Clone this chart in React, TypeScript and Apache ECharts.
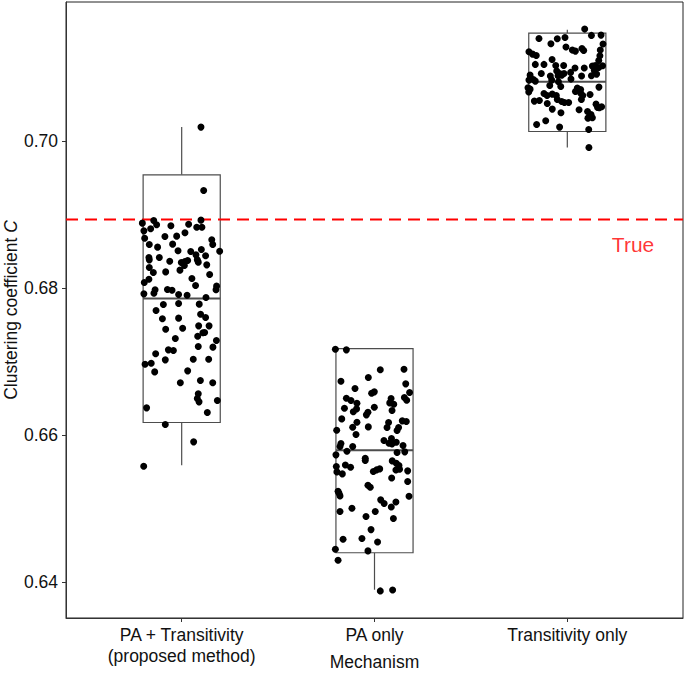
import React, { useEffect, useRef } from "react";
import * as echarts from "echarts";

const categories = ["PA + Transitivity\n(proposed method)", "PA only", "Transitivity only"];
const categoryPositions = [1, 2, 3];
const yTicks = [0.64, 0.66, 0.68, 0.7];

// box statistics
const boxMin = [0.65591, 0.63895, 0.69918];
const boxQ1 = [0.66173, 0.64399, 0.70136];
const boxMedian = [0.6786, 0.65796, 0.70813];
const boxQ3 = [0.69546, 0.67178, 0.71477];
const boxMax = [0.70196, 0.67178, 0.71522];

const trueValue = 0.68936;
const trueLabel = "True";

// jittered points: PA + Transitivity
const g1Values = [
  0.68888, 0.68924, 0.68865, 0.68811, 0.68852, 0.68874, 0.68833, 0.68929, 0.68833, 0.68783,
  0.68683, 0.68706, 0.68711, 0.68756, 0.68661, 0.68597, 0.68597, 0.68561, 0.68602, 0.68511,
  0.68502, 0.68456, 0.68529, 0.68506, 0.6842, 0.68388, 0.6842, 0.6837, 0.68352, 0.68366,
  0.68379, 0.68311, 0.68388, 0.68357, 0.68443, 0.6832, 0.68284, 0.68216, 0.68224, 0.68248,
  0.68189, 0.68125, 0.6808, 0.68134, 0.68039, 0.6798, 0.67934, 0.67925, 0.67984, 0.67975,
  0.67916, 0.67907, 0.6803, 0.6798, 0.67875, 0.67698, 0.6778, 0.67793, 0.67785, 0.67648,
  0.67585, 0.67594, 0.67603, 0.67444, 0.67457, 0.67489, 0.67489, 0.67317, 0.67348, 0.67394,
  0.67398, 0.67289, 0.67162, 0.67153, 0.67208, 0.67199, 0.67108, 0.66967, 0.6698, 0.67026,
  0.67035, 0.67035, 0.66862, 0.66876, 0.66713, 0.66744, 0.66713, 0.66563, 0.66499, 0.66454,
  0.66472, 0.66372, 0.66308, 0.66145, 0.65909, 0.65577, 0.70196, 0.69332,
];
const g1Jitter = [
  -0.204, -0.145, -0.13, -0.161, -0.056, 0.036, 0.078, 0.1, 0.105, -0.196,
  -0.192, -0.087, -0.026, 0.017, 0.156, 0.161, -0.168, -0.125, -0.047, -0.019,
  0.047, 0.074, 0.102, 0.197, -0.17, -0.168, -0.116, -0.062, -0.002, 0.017,
  0.031, 0.014, 0.081, 0.086, 0.124, 0.13, -0.168, -0.147, -0.083, -0.009,
  0.145, -0.17, -0.194, 0.053, 0.072, -0.138, -0.144, -0.196, -0.074, -0.05,
  -0.016, 0.028, 0.181, 0.178, 0.126, -0.133, -0.095, -0.016, 0.091, 0.098,
  -0.1, -0.016, 0.124, -0.083, 0.005, 0.088, 0.142, -0.033, 0.083, 0.11,
  0.119, 0.18, -0.069, -0.043, 0.086, 0.162, -0.135, -0.19, -0.158, -0.085,
  0.06, 0.14, -0.14, 0.031, -0.007, 0.097, 0.161, 0.086, 0.081, 0.09,
  0.185, -0.182, 0.133, -0.085, 0.062, -0.197, 0.1, 0.114,
];

// PA only
const g2Values = [
  0.67171, 0.67162, 0.6689, 0.66899, 0.66735, 0.66785, 0.66699, 0.66635, 0.66572, 0.6659,
  0.66581, 0.66504, 0.66472, 0.66436, 0.66499, 0.66513, 0.66476, 0.6644, 0.66422, 0.66367,
  0.66358, 0.66381, 0.66318, 0.66313, 0.66277, 0.66336, 0.66222, 0.66177, 0.66172, 0.66195,
  0.66186, 0.66068, 0.66109, 0.66113, 0.66104, 0.66104, 0.66063, 0.66009, 0.65954, 0.65927,
  0.65891, 0.65904, 0.65886, 0.65845, 0.65882, 0.65859, 0.65782, 0.65845, 0.65773, 0.65763,
  0.65732, 0.65686,
  0.65573, 0.655, 0.65473, 0.65595, 0.65564, 0.65654, 0.65505, 0.65527, 0.65541, 0.6565,
  0.65618, 0.65586, 0.65527, 0.65536, 0.65514, 0.65418, 0.65368, 0.65318, 0.65291, 0.65237,
  0.65209, 0.65173, 0.65169, 0.65119, 0.65069, 0.65091, 0.65023, 0.6496, 0.65005, 0.6496,
  0.64892, 0.64864, 0.64714, 0.64583, 0.64592, 0.64546, 0.64446, 0.64424, 0.64297, 0.63879,
  0.63892,
];
const g2Jitter = [
  -0.203, -0.146, 0.03, 0.153, -0.174, -0.032, 0.162, -0.101, -0.015, -0.001,
  0.182, -0.146, -0.122, -0.091, 0.086, 0.155, 0.167, 0.079, 0.1, -0.156,
  -0.093, -0.001, -0.11, -0.034, -0.042, 0.091, -0.17, -0.091, 0.073, 0.144,
  0.165, -0.196, -0.113, -0.032, 0.065, 0.125, 0.117, -0.096, 0.088, 0.049,
  0.075, 0.113, -0.174, -0.179, 0.091, 0.148, -0.143, -0.113, 0.157, 0.117,
  -0.2, -0.048,
  -0.198, -0.195, -0.167, -0.151, -0.124, -0.048, -0.006, 0.01, 0.027, 0.092,
  0.113, 0.127, 0.111, 0.13, 0.172, 0.089, 0.172, -0.034, -0.022, -0.189,
  -0.184, -0.179, 0.179, 0.032, 0.05, 0.111, 0.087, -0.179, -0.117, 0.004,
  -0.044, 0.098, -0.018, -0.163, -0.065, 0.016, -0.203, -0.034, -0.189, 0.03,
  0.094,
];

// Transitivity only
const g3Values = [
  0.71531, 0.71445, 0.71449, 0.71404, 0.71399, 0.71417, 0.71331, 0.71327, 0.71286, 0.71245,
  0.71231, 0.71267, 0.7124, 0.71245, 0.71222, 0.7119, 0.71172, 0.71168, 0.71118, 0.71104,
  0.7105, 0.7105, 0.71036, 0.71036, 0.71, 0.71, 0.71027, 0.71036, 0.71009, 0.71031,
  0.70927, 0.70959, 0.70927, 0.70927, 0.70941, 0.70968, 0.70918, 0.70904, 0.70845, 0.70891,
  0.70895, 0.70904, 0.70891, 0.70836, 0.70822, 0.70836, 0.70813, 0.7085, 0.70895, 0.70732,
  0.70713, 0.70763, 0.7075, 0.70727, 0.70709, 0.70741, 0.70673, 0.70654, 0.70627, 0.70645,
  0.70627, 0.70682, 0.70659, 0.70627, 0.70641, 0.7055, 0.70559, 0.70518, 0.70573, 0.70545,
  0.70532, 0.70532, 0.70573, 0.70509, 0.70441, 0.70391, 0.70432, 0.70409, 0.70368, 0.70464,
  0.70459, 0.70473, 0.70318, 0.70323, 0.70232, 0.70282, 0.70196, 0.70164, 0.69919,
];
const g3Jitter = [
  0.09, 0.125, 0.175, -0.147, -0.052, -0.012, -0.085, 0.185, -0.007, 0.026,
  0.042, 0.076, 0.085, 0.171, -0.199, -0.18, -0.161, 0.169, -0.079, 0.163,
  -0.166, -0.121, -0.06, -0.019, 0.04, 0.088, 0.13, 0.145, 0.163, 0.183,
  -0.135, -0.055, -0.04, -0.017, 0.017, 0.14, 0.152, -0.193, -0.176, -0.088,
  -0.048, -0.029, 0.074, -0.199, -0.166, -0.081, -0.046, 0.019, 0.125, -0.204,
  -0.193, -0.091, -0.034, 0.052, 0.069, 0.164, -0.2, -0.121, -0.105, -0.078,
  -0.057, 0.042, 0.069, 0.08, 0.118, -0.171, -0.145, -0.104, -0.052, -0.029,
  -0.015, 0.007, 0.073, 0.149, -0.078, -0.033, 0.061, 0.105, 0.123, 0.157,
  0.166, 0.178, 0.107, 0.13, -0.159, -0.112, -0.04, 0.111, 0.112,
];

const groupValues = [g1Values, g2Values, g3Values];
const groupJitter = [g1Jitter, g2Jitter, g3Jitter];

const FONT = "'Liberation Sans', Arial, Helvetica, sans-serif";
const X_MIN = 0.4;
const X_MAX = 3.6;
const BOX_HALF = 0.2;
const BOX_COLOR = "#4d4d4d";

export default function App() {
  const ref = useRef<HTMLDivElement>(null);

  useEffect(() => {
    if (!ref.current) return;
    const chart = echarts.init(ref.current, undefined, { renderer: "svg" });

    const boxData = categoryPositions.map((p, i) => [p, boxMin[i], boxQ1[i], boxMedian[i], boxQ3[i], boxMax[i]]);
    const pointData: number[][] = [];
    groupValues.forEach((vals, gi) => {
      vals.forEach((v, k) => pointData.push([categoryPositions[gi] + groupJitter[gi][k], v]));
    });

    const option: any = {
      animation: false,
      backgroundColor: "#ffffff",
      grid: {
        left: 66,
        right: 2,
        top: 2,
        bottom: 56,
        containLabel: false,
        outerBoundsMode: "none",
        show: true,
        borderColor: "#222222",
        borderWidth: 1,
        backgroundColor: "transparent",
      },
      xAxis: {
        type: "value",
        min: X_MIN,
        max: X_MAX,
        splitLine: { show: false },
        axisLine: { show: true, onZero: false, lineStyle: { color: "#333333", width: 1 } },
        axisTick: { show: true, length: 4, customValues: categoryPositions, lineStyle: { color: "#333333" } },
        axisLabel: {
          customValues: categoryPositions,
          formatter: (v: number) => categories[Math.round(v) - 1] ?? "",
          fontFamily: FONT,
          fontSize: 17.5,
          lineHeight: 21,
          color: "#111111",
          margin: 6,
        },
        name: "Mechanism",
        nameLocation: "middle",
        nameGap: 35,
        nameMoveOverlap: false,
        nameTextStyle: { fontFamily: FONT, fontSize: 17.5, color: "#111111" },
      },
      yAxis: {
        type: "value",
        min: 0.6351,
        max: 0.719,
        splitLine: { show: false },
        axisLine: { show: true, onZero: false, lineStyle: { color: "#333333", width: 1 } },
        axisTick: { show: true, length: 4, customValues: yTicks, lineStyle: { color: "#333333" } },
        axisLabel: {
          customValues: yTicks,
          formatter: (v: number) => v.toFixed(2),
          fontFamily: FONT,
          fontSize: 17.5,
          color: "#111111",
          margin: 8,
        },
        name: "{n|Clustering coefficient }{i|C}",
        nameLocation: "middle",
        nameRotate: 90,
        nameGap: 46,
        nameMoveOverlap: false,
        nameTextStyle: {
          fontFamily: FONT,
          fontSize: 17.5,
          color: "#111111",
          rich: {
            n: { fontFamily: FONT, fontSize: 17.5, color: "#111111" },
            i: { fontFamily: FONT, fontSize: 17.5, color: "#111111", fontStyle: "italic" },
          },
        },
      },
      series: [
        {
          type: "custom",
          name: "box",
          data: boxData,
          encode: { x: 0, y: [1, 2, 3, 4, 5] },
          z: 2,
          renderItem: (params: any, api: any) => {
            const cx = api.value(0);
            const pMin = api.coord([cx, api.value(1)]);
            const pQ1 = api.coord([cx, api.value(2)]);
            const pQ3 = api.coord([cx, api.value(4)]);
            const pMax = api.coord([cx, api.value(5)]);
            const bl = api.coord([cx - BOX_HALF, api.value(2)]);
            const tr = api.coord([cx + BOX_HALF, api.value(4)]);
            const ml = api.coord([cx - BOX_HALF, api.value(3)]);
            const mr = api.coord([cx + BOX_HALF, api.value(3)]);
            const stroke = { stroke: BOX_COLOR, lineWidth: 1.2, fill: "none" };
            return {
              type: "group",
              children: [
                { type: "line", shape: { x1: pQ1[0], y1: pQ1[1], x2: pMin[0], y2: pMin[1] }, style: stroke },
                { type: "line", shape: { x1: pQ3[0], y1: pQ3[1], x2: pMax[0], y2: pMax[1] }, style: stroke },
                {
                  type: "rect",
                  shape: { x: bl[0], y: tr[1], width: tr[0] - bl[0], height: bl[1] - tr[1] },
                  style: { stroke: BOX_COLOR, lineWidth: 1.2, fill: "#ffffff" },
                },
                { type: "line", shape: { x1: ml[0], y1: ml[1], x2: mr[0], y2: mr[1] }, style: { stroke: BOX_COLOR, lineWidth: 2 } },
              ],
            };
          },
        },
        {
          type: "line",
          name: "true",
          data: [
            [X_MIN, trueValue],
            [X_MAX, trueValue],
          ],
          symbol: "none",
          silent: true,
          lineStyle: { color: "#ff0000", type: [12, 7], width: 2 },
          z: 3,
        },
        {
          type: "scatter",
          name: "points",
          data: pointData,
          symbol: "circle",
          symbolSize: 7,
          itemStyle: { color: "#000000", opacity: 1 },
          z: 5,
        },
        {
          type: "scatter",
          name: "trueLabel",
          data: [[3.341, 0.68593]],
          symbolSize: 1,
          itemStyle: { color: "transparent" },
          label: {
            show: true,
            position: "inside",
            formatter: trueLabel,
            color: "#ff0000",
            fontFamily: FONT,
            fontSize: 21,
          },
          z: 6,
        },
      ],
    };

    chart.setOption(option);
    return () => chart.dispose();
  }, []);

  return (
    <div
      ref={ref}
      style={{ position: "absolute", left: 0, top: 0, width: 685, height: 674, background: "#fff" }}
    />
  );
}
